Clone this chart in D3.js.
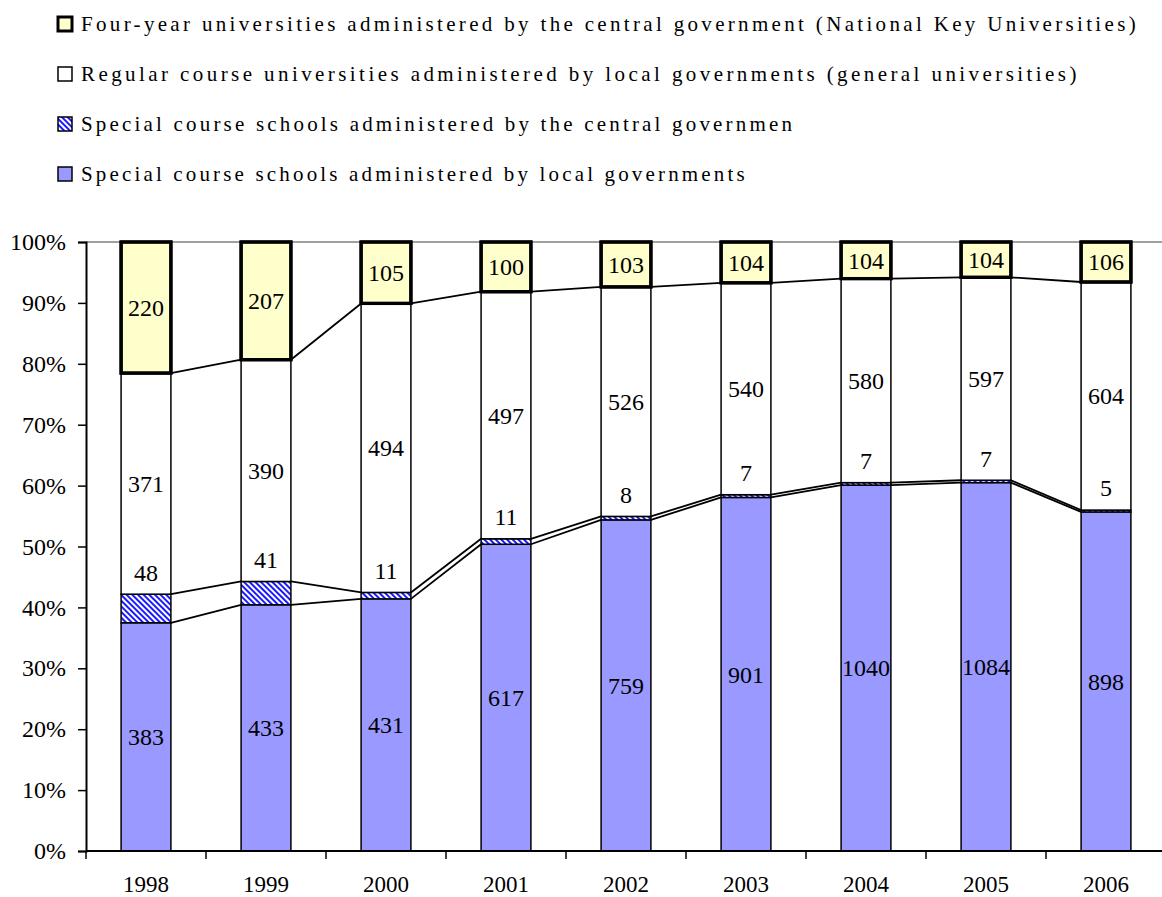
<!DOCTYPE html>
<html>
<head>
<meta charset="utf-8">
<script src="https://cdn.jsdelivr.net/npm/d3@7/dist/d3.min.js"></script>
<style>
  html, body { margin: 0; padding: 0; background: #fff; }
  svg { display: block; }
</style>
</head>
<body>
<svg id="chart" width="1162" height="897"></svg>
<script>
// Number of higher-education institutions by type, 1998–2006
const years = ["1998", "1999", "2000", "2001", "2002", "2003", "2004", "2005", "2006"];
const specialLocal   = [383, 433, 431, 617, 759, 901, 1040, 1084, 898];
const specialCentral = [48, 41, 11, 11, 8, 7, 7, 7, 5];
const regularLocal   = [371, 390, 494, 497, 526, 540, 580, 597, 604];
const nationalKey    = [220, 207, 105, 100, 103, 104, 104, 104, 106];
const yTicks = [0, 0.1, 0.2, 0.3, 0.4, 0.5, 0.6, 0.7, 0.8, 0.9, 1.0];

const seriesNames = [
  "Special course schools administered by local governments",
  "Special course schools administered by the central governmen",
  "Regular course universities administered by local governments (general universities)",
  "Four-year universities administered by the central government (National Key Universities)"
];
const seriesValues = [specialLocal, specialCentral, regularLocal, nationalKey];

const svg = d3.select("#chart");
const numFont = "'Liberation Serif', 'DejaVu Serif', serif";
const legFont = "'Liberation Serif', 'DejaVu Serif', serif";

// Hatch for the central-government special course schools
const defs = svg.append("defs");
const pat = defs.append("pattern")
  .attr("id", "hatch").attr("patternUnits", "userSpaceOnUse")
  .attr("width", 4).attr("height", 4)
  .attr("patternTransform", "rotate(-45)");
pat.append("rect").attr("width", 4).attr("height", 4).attr("fill", "#fff");
pat.append("rect").attr("x", 0).attr("y", 0).attr("width", 2).attr("height", 4).attr("fill", "#1a1aff");

const styles = [
  { fill: "#9999ff", stroke: "#000", sw: 1.5 },
  { fill: "url(#hatch)", stroke: "#000", sw: 1.5 },
  { fill: "#ffffff", stroke: "#000", sw: 1.5 },
  { fill: "#ffffcc", stroke: "#000", sw: 3.2 }
];

// Build 100% stacks
const rows = years.map((yr, j) => {
  const row = { year: yr };
  seriesValues.forEach((arr, i) => row["s" + i] = arr[j]);
  return row;
});
const keys = seriesValues.map((_, i) => "s" + i);
const stack = d3.stack().keys(keys).offset(d3.stackOffsetExpand);
const layers = stack(rows);

const plotLeft = 86, plotRight = 1166, plotTop = 242, plotBottom = 851;
const x = d3.scaleBand().domain(years).range([plotLeft, plotRight]).padding(0);
const y = d3.scaleLinear().domain([0, 1]).range([plotBottom, plotTop]);
const barW = x.bandwidth() * 0.415;
const cx = d => x(d) + x.bandwidth() / 2;

// Top border of plot area
svg.append("line")
  .attr("x1", plotLeft).attr("x2", 1162).attr("y1", y(1)).attr("y2", y(1))
  .attr("stroke", "#808080").attr("stroke-width", 1.5);

// Bars
layers.forEach((layer, i) => {
  svg.append("g").selectAll("rect").data(layer).join("rect")
    .attr("x", d => cx(d.data.year) - barW / 2)
    .attr("y", d => y(d[1]))
    .attr("width", barW)
    .attr("height", d => y(d[0]) - y(d[1]))
    .attr("fill", styles[i].fill)
    .attr("stroke", styles[i].stroke)
    .attr("stroke-width", styles[i].sw);
});

// Series lines linking the top of each segment between neighbouring bars
layers.slice(0, 3).forEach(layer => {
  const g = svg.append("g");
  for (let j = 0; j < layer.length - 1; j++) {
    const a = layer[j], b = layer[j + 1];
    g.append("line")
      .attr("x1", cx(a.data.year) + barW / 2).attr("y1", y(a[1]))
      .attr("x2", cx(b.data.year) - barW / 2).attr("y2", y(b[1]))
      .attr("stroke", "#000").attr("stroke-width", 1.8);
  }
});

// Re-stroke the heavy top segments so their frame sits above the lines
svg.append("g").selectAll("rect").data(layers[3]).join("rect")
  .attr("x", d => cx(d.data.year) - barW / 2)
  .attr("y", d => y(d[1]))
  .attr("width", barW)
  .attr("height", d => y(d[0]) - y(d[1]))
  .attr("fill", "none").attr("stroke", "#000").attr("stroke-width", 3.2);

// Value labels
layers.forEach((layer, i) => {
  svg.append("g").selectAll("text").data(layer).join("text")
    .attr("x", d => cx(d.data.year))
    .attr("y", d => i === 1 ? y(d[1]) - 22 : (y(d[0]) + y(d[1])) / 2)
    .attr("dy", "0.35em")
    .attr("text-anchor", "middle")
    .attr("font-family", numFont).attr("font-size", 24)
    .attr("fill", "#000")
    .text(d => d.data["s" + i]);
});

// Y axis
const yAxis = svg.append("g").attr("transform", `translate(${plotLeft},0)`)
  .call(d3.axisLeft(y).tickValues(yTicks).tickFormat(d3.format(".0%")).tickSize(8).tickPadding(12));
yAxis.select(".domain").attr("stroke", "#000").attr("stroke-width", 2);
yAxis.selectAll(".tick line").attr("stroke", "#000").attr("stroke-width", 1.5);
yAxis.selectAll("text").attr("font-family", numFont).attr("font-size", 24).attr("fill", "#000");

// X axis: ticks sit on category boundaries
const xg = svg.append("g");
xg.append("line").attr("x1", plotLeft).attr("x2", 1162).attr("y1", plotBottom).attr("y2", plotBottom)
  .attr("stroke", "#000").attr("stroke-width", 2);
xg.selectAll("line.tk").data(years).join("line").attr("class", "tk")
  .attr("x1", d => x(d)).attr("x2", d => x(d))
  .attr("y1", plotBottom).attr("y2", plotBottom + 8)
  .attr("stroke", "#000").attr("stroke-width", 1.5);
xg.selectAll("text").data(years).join("text")
  .attr("x", d => cx(d)).attr("y", 892)
  .attr("text-anchor", "middle")
  .attr("font-family", numFont).attr("font-size", 23).attr("fill", "#000")
  .text(d => d);

// Legend (top series first), fixed-pitch spacing
const legendOrder = [3, 2, 1, 0];
const charW = 11.85;
const lg = svg.append("g");
legendOrder.forEach((si, k) => {
  const ly = 24 + k * 50;
  const st = styles[si];
  lg.append("rect")
    .attr("x", 58).attr("y", ly - 7).attr("width", 14).attr("height", 14)
    .attr("fill", st.fill).attr("stroke", "#000")
    .attr("stroke-width", si === 3 ? 3 : 1.5);
  lg.append("text")
    .attr("x", 81).attr("y", ly).attr("dy", "0.35em")
    .attr("font-family", legFont).attr("font-size", 21).attr("fill", "#000")
    .attr("textLength", seriesNames[si].length * charW)
    .attr("lengthAdjust", "spacing")
    .text(seriesNames[si]);
});
</script>
</body>
</html>
